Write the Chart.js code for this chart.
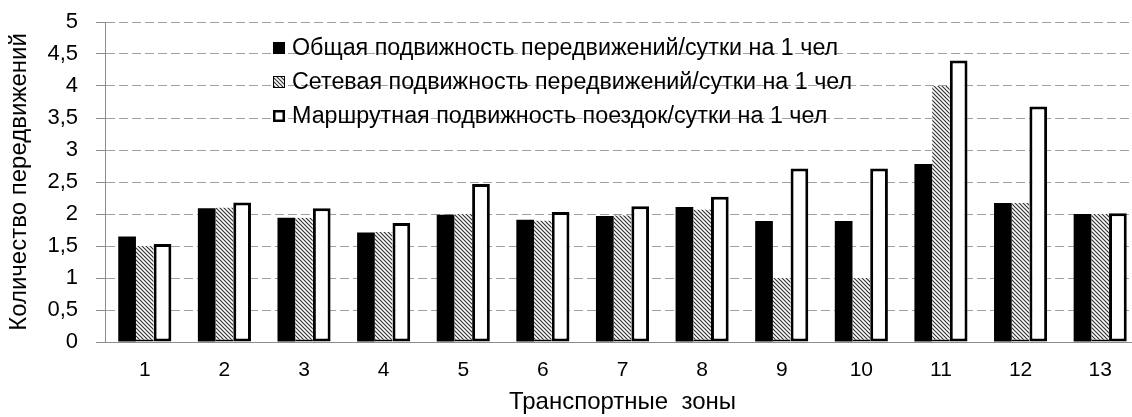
<!DOCTYPE html>
<html><head><meta charset="utf-8">
<script src="https://cdn.jsdelivr.net/npm/chart.js@4/dist/chart.umd.min.js"></script>
<style>html,body{margin:0;padding:0;background:#fff;overflow:hidden}#wrap{position:relative;width:1145px;height:417px}</style>
</head><body><div id="wrap"><canvas id="c" width="1145" height="417"></canvas></div>
<script>
const categories = ['1','2','3','4','5','6','7','8','9','10','11','12','13'];
const seriesLabels = [
  'Общая подвижность передвижений/сутки на 1 чел',
  'Сетевая подвижность передвижений/сутки на 1 чел',
  'Маршрутная подвижность поездок/сутки на 1 чел'
];
const totalMobility   = [1.65, 2.09, 1.94, 1.71, 1.99, 1.91, 1.97, 2.11, 1.89, 1.89, 2.78, 2.17, 2.00];
const networkMobility = [1.50, 2.10, 1.94, 1.72, 2.00, 1.90, 1.98, 2.07, 1.00, 1.00, 4.00, 2.17, 2.00];
const routeMobility   = [1.53, 2.18, 2.09, 1.86, 2.47, 2.03, 2.12, 2.27, 2.71, 2.71, 4.40, 3.68, 2.01];
const yTickLabels = ['0','0,5','1','1,5','2','2,5','3','3,5','4','4,5','5'];
const xTitle = 'Транспортные  зоны';
const yTitle = 'Количество передвижений';

const FONT = "'Liberation Sans', Arial, sans-serif";

function makeHatch() {
  const p = document.createElement('canvas');
  p.width = 4; p.height = 4;
  const g = p.getContext('2d');
  g.fillStyle = '#fff'; g.fillRect(0,0,4,4);
  g.strokeStyle = '#333'; g.lineWidth = 1.2;
  g.beginPath();
  g.moveTo(-1,-1); g.lineTo(5,5);
  g.moveTo(-1,3); g.lineTo(1,5);
  g.moveTo(3,-1); g.lineTo(5,1);
  g.stroke();
  return g.createPattern(p, 'repeat');
}
const ctx = document.getElementById('c').getContext('2d');
const hatch = makeHatch();

const legendPlugin = {
  id: 'innerLegend',
  afterDatasetsDraw(chart) {
    const c = chart.ctx;
    const x0 = 273, ys = [48, 82, 116], box = 12;
    c.save();
    c.font = '23.3px ' + FONT;
    c.textBaseline = 'middle';
    chart.data.datasets.forEach((ds, i) => {
      const y = ys[i];
      if (i === 0) { c.fillStyle = '#000'; c.fillRect(x0, y - box/2, box, box); }
      else if (i === 1) { c.fillStyle = hatch; c.fillRect(x0, y - box/2, box, box); c.strokeStyle = '#000'; c.lineWidth = 1; c.strokeRect(x0+0.5, y - box/2+0.5, box-1, box-1); }
      else { c.fillStyle = '#fff'; c.fillRect(x0, y - box/2, box, box); c.strokeStyle = '#000'; c.lineWidth = 2.5; c.strokeRect(x0+1.25, y - box/2+1.25, box-2.5, box-2.5); }
      c.fillStyle = '#000';
      c.fillText(ds.label, 292, y + 1);
    });
    c.restore();
  }
};

new Chart(ctx, {
  type: 'bar',
  data: {
    labels: categories,
    datasets: [
      { label: seriesLabels[0], data: totalMobility, backgroundColor: '#000', borderWidth: 0 },
      { label: seriesLabels[1], data: networkMobility, backgroundColor: hatch, borderColor: '#000', borderWidth: {top:0,left:0,right:0,bottom:2}, borderSkipped: false },
      { label: seriesLabels[2], data: routeMobility, backgroundColor: '#fff', borderColor: '#000', borderWidth: 3, borderSkipped: false }
    ]
  },
  options: {
    responsive: false,
    animation: false,
    devicePixelRatio: 1,
    categoryPercentage: 0.667,
    barPercentage: 1.0,
    layout: { padding: { top: 22, right: 5, bottom: 0, left: 0 } },
    plugins: { legend: { display: false }, tooltip: { enabled: false } },
    scales: {
      x: {
        grid: { display: false, drawTicks: false },
        border: { display: true, color: '#8c8c8c', width: 1 },
        ticks: { color: '#000', font: { family: FONT, size: 21 }, padding: 16, maxRotation: 0 },
        title: { display: true, text: xTitle, color: '#000', font: { family: FONT, size: 24 }, padding: { top: 0, bottom: 0 } },
        afterFit(s) { s.height = 75; }
      },
      y: {
        min: 0, max: 5,
        ticks: { stepSize: 0.5, color: '#000', font: { family: FONT, size: 22, lineHeight: 0.3 }, padding: 18,
          callback: (v, i) => yTickLabels[i] },
        grid: { color: '#a0a0a0', lineWidth: 1, tickLength: 9, tickBorderDash: [], tickColor: '#8c8c8c',
          drawOnChartArea: true },
        border: { display: true, color: '#8c8c8c', width: 1, dash: [9, 4] },
        title: { display: true, text: yTitle, color: '#000', font: { family: FONT, size: 24 }, padding: { top: 5, bottom: 0 } },
        afterFit(s) { s.width = 105; }
      }
    }
  },
  plugins: [legendPlugin]
});
</script></body></html>
